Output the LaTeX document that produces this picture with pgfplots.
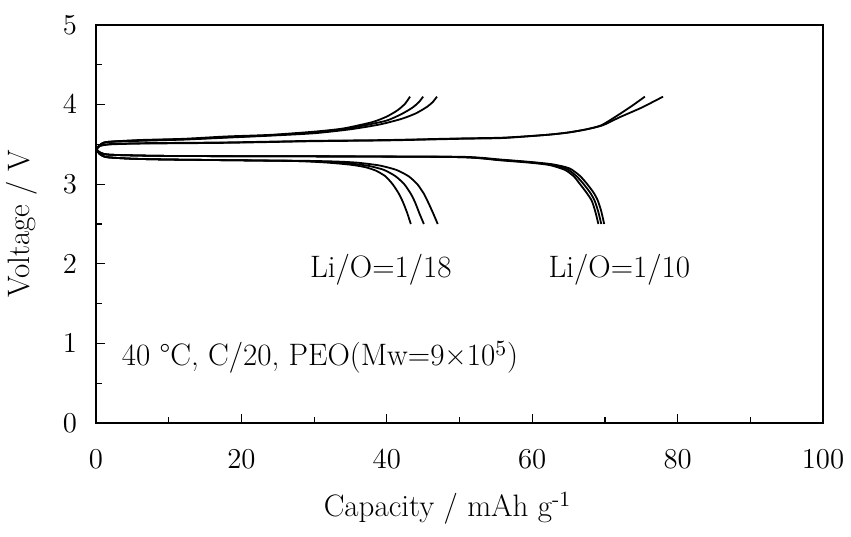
\documentclass[border=0pt]{standalone}
\usepackage{fontspec}
\usepackage{pgfplots}
\pgfplotsset{compat=1.18}
\newcommand\fs{\fontsize{15.5}{18.6}\selectfont}
\begin{document}
\begin{tikzpicture}
\path[use as bounding box] (-48pt,-56.5pt) rectangle (377.5pt,211.5pt);
\begin{axis}[
  at={(0,0)}, anchor=south west,
  scale only axis, width=363.5pt, height=199pt,
  xmin=0, xmax=100, ymin=0, ymax=5,
  xtick={0,20,40,60,80,100}, ytick={0,1,2,3,4,5},
  minor x tick num=1, minor y tick num=1,
  tick align=inside, tickwidth=4.5pt, subtickwidth=3pt,
  xtick pos=bottom, ytick pos=left,
  axis line style={line width=0.9pt},
  every tick/.style={black, line width=0.6pt},
  every minor tick/.style={black, line width=0.6pt},
  tick label style={font=\fs},
  xticklabel style={yshift=-10pt},
  yticklabel style={xshift=-6pt},
  label style={font=\fs},
  xlabel={Capacity / mAh g\textsuperscript{-1}},
  ylabel={Voltage / V},
  xlabel style={at={(axis description cs:0.5,0)}, anchor=north, yshift=-31pt, xshift=-6pt},
  ylabel style={at={(axis description cs:0,0.5)}, anchor=south, yshift=26pt},
  cycle list={{black, solid}},
  every axis plot post/.append style={black, solid, line width=0.9pt, no markers, smooth, tension=0.4},
]
% Li/O=1/18 charge
\addplot coordinates {(0,3.43)(0.5,3.49)(1.5,3.53)(6,3.555)(12,3.57)(18,3.60)(24,3.62)(30,3.66)(34,3.70)(38,3.78)(40,3.85)(41.5,3.93)(42.5,4.01)(43.2,4.10)};
\addplot coordinates {(0,3.43)(0.5,3.49)(1.5,3.53)(6,3.55)(12,3.565)(18,3.59)(24,3.615)(30,3.65)(34,3.69)(37,3.74)(40,3.80)(42,3.88)(43.5,3.96)(44.4,4.03)(45.0,4.10)};
\addplot coordinates {(0,3.43)(0.5,3.49)(1.5,3.53)(6,3.545)(12,3.56)(18,3.585)(24,3.61)(30,3.64)(35,3.69)(39,3.75)(42,3.82)(44,3.89)(45.5,3.97)(46.3,4.03)(46.9,4.10)};
% Li/O=1/18 discharge
\addplot coordinates {(0,3.45)(0.5,3.38)(1.5,3.34)(5,3.32)(10,3.31)(20,3.30)(28,3.29)(32,3.27)(35,3.245)(37,3.215)(38.5,3.17)(39.8,3.10)(40.8,3.00)(41.6,2.89)(42.2,2.78)(42.8,2.64)(43.3,2.50)};
\addplot coordinates {(0,3.45)(0.5,3.38)(1.5,3.34)(5,3.32)(10,3.31)(20,3.30)(28,3.29)(32,3.28)(35,3.26)(37.5,3.23)(39.6,3.18)(41.2,3.10)(42.4,3.00)(43.3,2.88)(43.9,2.77)(44.5,2.63)(45.1,2.50)};
\addplot coordinates {(0,3.45)(0.5,3.38)(1.5,3.34)(5,3.32)(10,3.31)(20,3.30)(28,3.295)(33,3.285)(36,3.27)(39,3.235)(41.3,3.18)(43,3.10)(44.2,3.00)(45.1,2.88)(45.7,2.77)(46.4,2.63)(47.0,2.50)};
% Li/O=1/10 charge
\addplot coordinates {(0,3.43)(0.5,3.48)(2,3.50)(6,3.51)(18,3.52)(30,3.54)(40,3.55)(50,3.57)(56,3.58)(62,3.62)(65,3.65)(67.5,3.69)(69.5,3.74)(71.5,3.85)(73.5,3.97)(75.5,4.10)};
\addplot coordinates {(0,3.43)(0.5,3.48)(2,3.505)(6,3.515)(18,3.525)(30,3.545)(40,3.555)(50,3.575)(56,3.585)(62,3.62)(65,3.65)(67.5,3.69)(69.7,3.74)(72,3.84)(75,3.96)(78,4.10)};
% Li/O=1/10 discharge
\addplot coordinates {(0,3.45)(0.5,3.40)(2,3.37)(10,3.355)(30,3.35)(50,3.34)(55.6,3.30)(59.7,3.27)(62.4,3.24)(64.5,3.18)(65.7,3.10)(66.5,3.01)(67.5,2.89)(68.2,2.79)(68.7,2.65)(69.1,2.50)};
\addplot coordinates {(0,3.45)(0.5,3.40)(2,3.37)(10,3.355)(30,3.35)(50,3.34)(55.6,3.305)(59.7,3.275)(62.6,3.245)(64.8,3.19)(66.1,3.10)(67,3.01)(68,2.89)(68.6,2.79)(69.1,2.65)(69.5,2.50)};
\addplot coordinates {(0,3.45)(0.5,3.40)(2,3.37)(10,3.355)(30,3.35)(50,3.345)(55.6,3.31)(59.7,3.28)(62.8,3.25)(65.1,3.20)(66.5,3.11)(67.4,3.02)(68.4,2.90)(69,2.80)(69.5,2.66)(69.9,2.50)};
\node[font=\fs, anchor=west, inner sep=0pt] at (axis cs:29.4,1.92) {Li/O=1/18};
\node[font=\fs, anchor=west, inner sep=0pt] at (axis cs:62.2,1.92) {Li/O=1/10};
\node[font=\fs, anchor=west, inner sep=0pt] at (axis cs:3.5,0.83) {40 °C, C/20, PEO(Mw=9×10\textsuperscript{5})};
\end{axis}
\end{tikzpicture}
\end{document}
